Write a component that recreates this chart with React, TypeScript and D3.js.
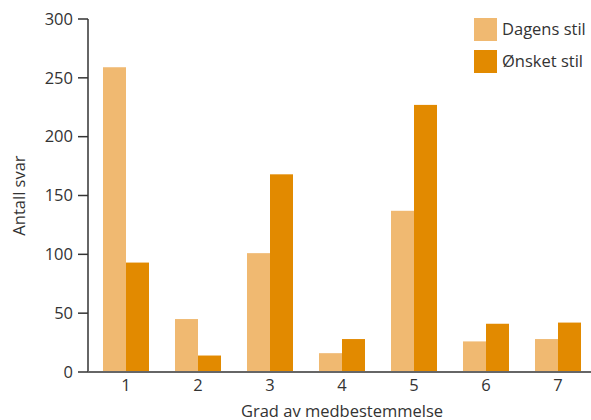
import React from "react";
import * as d3 from "d3";

const categories = ["1", "2", "3", "4", "5", "6", "7"];
const seriesNames = ["Dagens stil", "Ønsket stil"];
const dagens = [259, 45, 101, 16, 137, 26, 28];
const onsket = [93, 14, 168, 28, 227, 41, 42];
const yTicks = [0, 50, 100, 150, 200, 250, 300];
const colors = ["#F0B971", "#E28A00"];

const W = 591;
const H = 420;
const FONT = "'Open Sans', Lato, sans-serif";
const FS = 16.5;

export default function App() {
  const x0 = d3.scaleBand<string>().domain(categories).range([90, 594]).paddingInner(0.361).paddingOuter(0.1805);
  const x1 = d3.scaleBand<string>().domain(seriesNames).range([0, x0.bandwidth()]);
  const y = d3.scaleLinear().domain([0, 300]).range([372, 19]);
  const values = [dagens, onsket];
  const axisX = 88;

  return (
    <svg width={W} height={H} style={{ position: "absolute", left: 0, top: 0, background: "#fff" }} fontFamily={FONT}>
      {categories.map((c, i) =>
        seriesNames.map((s, j) => (
          <rect
            key={c + s}
            x={(x0(c) as number) + (x1(s) as number)}
            y={y(values[j][i])}
            width={x1.bandwidth()}
            height={y(0) - y(values[j][i])}
            fill={colors[j]}
          />
        ))
      )}
      {/* y axis */}
      <line x1={axisX} x2={axisX} y1={y(300)} y2={y(0)} stroke="#333" strokeWidth={1.5} />
      {yTicks.map((t) => (
        <g key={t}>
          <line x1={axisX - 10} x2={axisX} y1={y(t)} y2={y(t)} stroke="#333" strokeWidth={1.5} />
          <text x={73} y={y(t)} dy="0.35em" textAnchor="end" fontSize={FS} fill="#333">
            {t}
          </text>
        </g>
      ))}
      {/* x axis */}
      <line x1={axisX} x2={W} y1={y(0)} y2={y(0)} stroke="#666" strokeWidth={2} />
      {categories.map((c) => (
        <text key={c} x={(x0(c) as number) + x0.bandwidth() / 2} y={391} textAnchor="middle" fontSize={FS} fill="#333">
          {c}
        </text>
      ))}
      <text x={342} y={417} textAnchor="middle" fontSize={FS} fill="#333">
        Grad av medbestemmelse
      </text>
      <text transform={`translate(25,${(y(0) + y(300)) / 2}) rotate(-90)`} textAnchor="middle" fontSize={FS} fill="#333">
        Antall svar
      </text>
      {/* legend */}
      {seriesNames.map((s, j) => (
        <g key={s} transform={`translate(474,${18 + j * 32})`}>
          <rect x={0} y={0} width={23} height={23} fill={colors[j]} />
          <text x={28} y={11.5} dy="0.35em" fontSize={FS} fill="#333">
            {s}
          </text>
        </g>
      ))}
    </svg>
  );
}
